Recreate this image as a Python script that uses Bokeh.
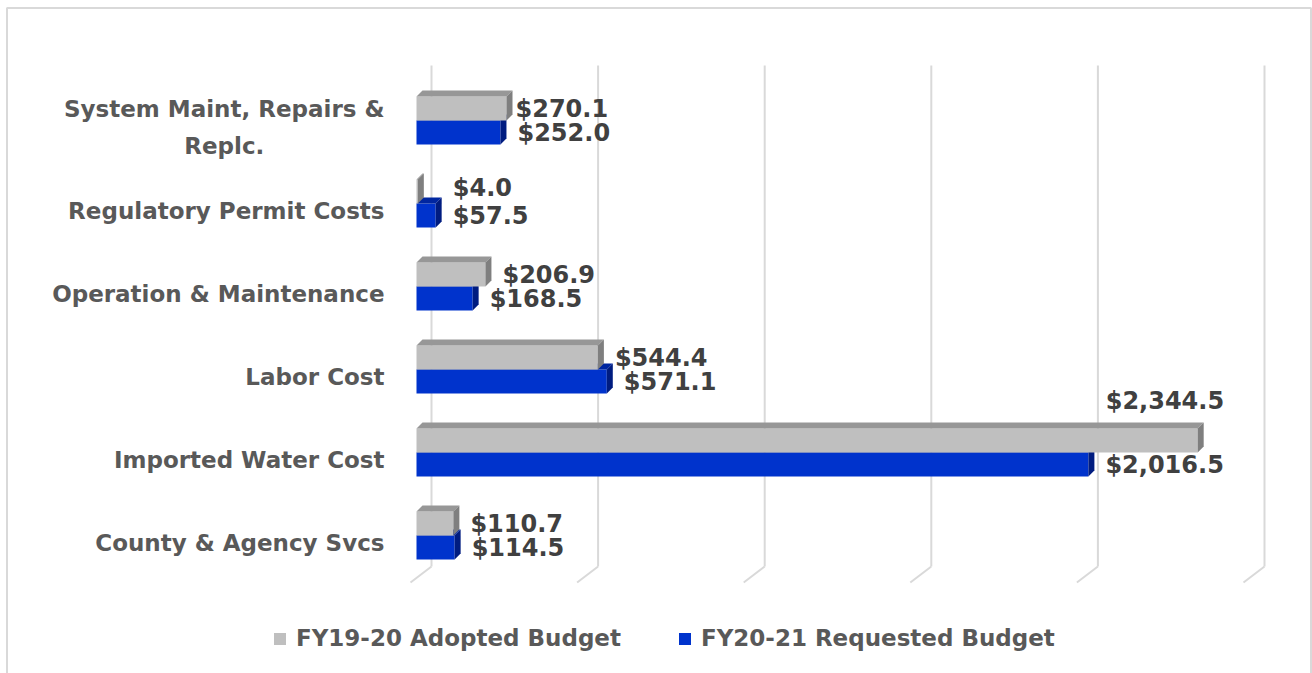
import numpy as np
from bokeh.plotting import figure
from bokeh.models import Range1d, Legend, LegendItem
from bokeh.core.properties import value
from bokeh.embed import file_html
from bokeh.resources import INLINE

# ---------------- data ----------------
categories = ["System Maint, Repairs &\nReplc.", "Regulatory Permit Costs",
              "Operation & Maintenance", "Labor Cost", "Imported Water Cost",
              "County & Agency Svcs"]
fy1920 = [270.1, 4.0, 206.9, 544.4, 2344.5, 110.7]
fy2021 = [252.0, 57.5, 168.5, 571.1, 2016.5, 114.5]
series_names = ["FY19-20 Adopted Budget", "FY20-21 Requested Budget"]
grid_values = [0, 500, 1000, 1500, 2000, 2500]

# ---------------- geometry (pixels -> data units) ----------------
W, H = 1312, 673
ZERO_PX = 416            # screen x of value 0 on bar front faces
PXU = 833 / 2500         # pixels per dollar unit
ROW_PX = 83              # pixels between categories
BASE_PX = 542            # screen y of the bottom category

def ux(px):
    return px / PXU

def uy(px):
    return px / ROW_PX

def xdata(px):
    return (px - ZERO_PX) / PXU

def ydata(py):
    return (BASE_PX - py) / ROW_PX

n = len(categories)
pos = [n - 1 - k for k in range(n)]

bar_h = uy(24)
boundary = uy(7)
ddx = ux(6)
ddy = uy(6)

GRAY = dict(front="#bfbfbf", top="#979797", side="#7f7f7f")
BLUE = dict(front="#0033cc", top="#0026a0", side="#001c80")

p = figure(width=W, height=H, output_backend="svg", toolbar_location=None,
           x_range=Range1d(xdata(0), xdata(W)), y_range=Range1d(ydata(H), ydata(0)),
           min_border=0, x_axis_location=None, y_axis_location=None)
p.outline_line_color = None
p.grid.visible = False
p.background_fill_color = "white"
p.border_fill_color = "white"

# chart border (left, top, right; bottom lies below the window)
p.line(x=[xdata(6.5), xdata(6.5), xdata(1310.5), xdata(1310.5)],
       y=[ydata(H + 20), ydata(7.5), ydata(7.5), ydata(H + 20)],
       line_color="#d9d9d9", line_width=2)

# 3D gridlines: back wall verticals + floor slants
back_x = [v + ux(15) for v in grid_values]
p.segment(x0=back_x, y0=[ydata(566)] * len(back_x), x1=back_x,
          y1=[ydata(65)] * len(back_x), line_color="#d9d9d9", line_width=2)
p.segment(x0=back_x, y0=[ydata(566)] * len(back_x),
          x1=[b - ux(21) for b in back_x], y1=[ydata(582)] * len(back_x),
          line_color="#d9d9d9", line_width=2)


def draw_bars(vals, y0s, col):
    fx, fy, tx, ty, sx, sy = [], [], [], [], [], []
    for v, y0 in zip(vals, y0s):
        y1 = y0 + bar_h
        fx.append([0, v, v, 0]); fy.append([y0, y0, y1, y1])
        tx.append([0, v, v + ddx, ddx]); ty.append([y1, y1, y1 + ddy, y1 + ddy])
        sx.append([v, v + ddx, v + ddx, v]); sy.append([y0, y0 + ddy, y1 + ddy, y1])
    front = p.patches(fx, fy, fill_color=col["front"], line_color=None)
    p.patches(tx, ty, fill_color=col["top"], line_color=None)
    p.patches(sx, sy, fill_color=col["side"], line_color=None)
    return front

gray_y0 = [c + boundary for c in pos]
blue_y0 = [c + boundary - bar_h for c in pos]

blue_r = draw_bars(fy2021, blue_y0, BLUE)
gray_r = draw_bars(fy1920, gray_y0, GRAY)

# data labels
gap_px = 6 + 11
gray_nudge = {0: (-8, 0), 1: (18, 4), 4: (-109, 40)}   # px (right, up)
lx, ly, lt = [], [], []
for k, (v, y0) in enumerate(zip(fy1920, gray_y0)):
    dxp, dyp = gray_nudge.get(k, (0, 0))
    lx.append(v + ux(gap_px + dxp)); ly.append(y0 + bar_h / 2 + uy(dyp))
    lt.append(f"${v:,.1f}")
for v, y0 in zip(fy2021, blue_y0):
    lx.append(v + ux(gap_px)); ly.append(y0 + bar_h / 2)
    lt.append(f"${v:,.1f}")
p.text(x=lx, y=ly, text=lt, text_font=value("DejaVu Sans"), text_font_style="bold",
       text_font_size="24px", text_color="#404040", text_baseline="middle",
       text_align="left")

# category labels (right-anchored block, centred lines)
p.text(x=[xdata(384)] * n, y=pos, text=categories, text_font=value("DejaVu Sans"),
       text_font_style="bold", text_font_size="23px", text_color="#595959",
       text_align="center", text_baseline="middle", anchor="center_right",
       text_line_height=1.4)

legend = Legend(items=[LegendItem(label=series_names[0], renderers=[gray_r]),
                       LegendItem(label=series_names[1], renderers=[blue_r])],
                orientation="horizontal", location=(272, 22),
                glyph_width=15, glyph_height=15, label_standoff=9, spacing=56,
                padding=0, margin=0, border_line_color=None,
                background_fill_alpha=0,
                label_text_font="DejaVu Sans", label_text_font_style="bold",
                label_text_font_size="23px", label_text_color="#595959")
p.add_layout(legend)

open("out.html", "w").write(file_html(p, INLINE))
